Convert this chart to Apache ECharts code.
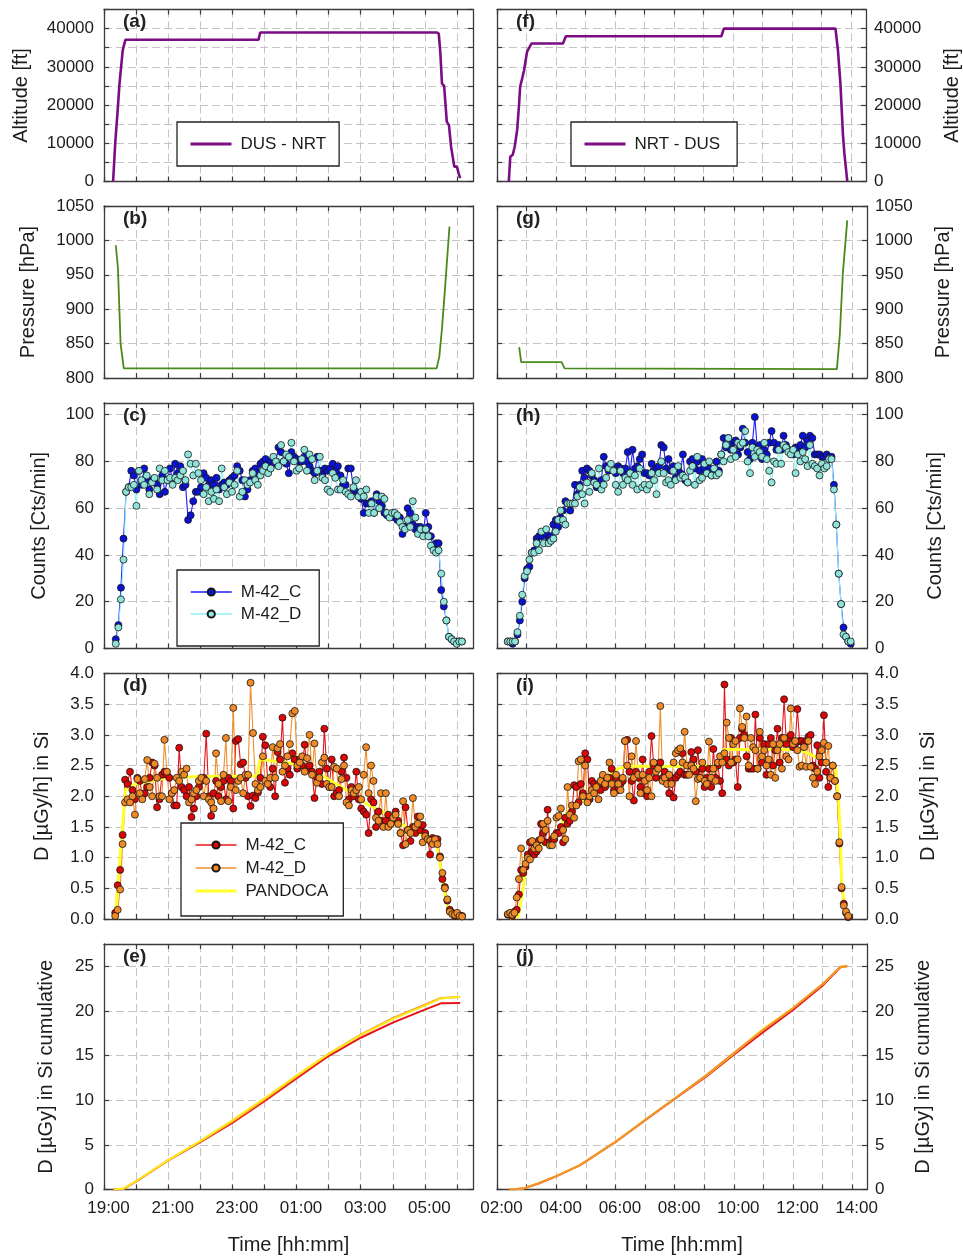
<!DOCTYPE html>
<html>
<head>
<meta charset="utf-8">
<script src="https://cdn.jsdelivr.net/npm/echarts@6.0.0/dist/echarts.min.js"></script>
<style>
  html, body { margin: 0; padding: 0; background: #fff; }
  #chart { width: 963px; height: 1260px; }
</style>
</head>
<body>
<div id="chart"></div>
<script>
// ---- axis ticks ----
const leftTimeTicks = ['19:00', '21:00', '23:00', '01:00', '03:00', '05:00'];
const rightTimeTicks = ['02:00', '04:00', '06:00', '08:00', '10:00', '12:00', '14:00'];
const altitudeTicks = [0, 10000, 20000, 30000, 40000];
const pressureTicks = [800, 850, 900, 950, 1000, 1050];
const countTicks = [0, 20, 40, 60, 80, 100];
const doseTicks = [0, 0.5, 1, 1.5, 2, 2.5, 3, 3.5, 4];
const cumTicks = [0, 5, 10, 15, 20, 25];

// ---- flight profile DUS - NRT (left) ----
const altLeftTime = ['19:17', '19:21', '19:26', '19:29', '19:35', '19:40', '23:49', '23:52', '05:22', '05:26', '05:29',
  '05:32', '05:36', '05:38', '05:41', '05:45', '05:49', '05:52', '05:55', '06:00', '06:03', '06:06'];
const altLeft = [0, 10000, 19500, 25600, 34300, 37100, 37100, 39000, 39000, 38700, 33500,
  25600, 25000, 21300, 15600, 14800, 9100, 6500, 3900, 3900, 2200, 870];
const presLeftTime = ['19:22', '19:26', '19:31', '19:37', '05:22', '05:27', '05:32', '05:37', '05:41', '05:46'];
const presLeft = [993, 961, 850, 814, 814, 831, 872, 923, 966, 1020];

// ---- flight profile NRT - DUS (right) ----
const altRightTime = ['02:24', '02:27', '02:32', '02:36', '02:41', '02:45', '02:47', '02:52', '02:55', '02:58', '03:01', '03:04',
  '03:10', '04:14', '04:20', '09:36', '09:41', '13:28', '13:33', '13:38', '13:43', '13:46', '13:52'];
const altRight = [0, 6500, 7000, 9100, 13500, 20400, 24800, 27400, 29100, 29100, 33900, 34300,
  36100, 36100, 38000, 38000, 40000, 40000, 34300, 25650, 12600, 7400, 0];
const presRightTime = ['02:45', '02:49', '04:11', '04:17', '13:29', '13:35', '13:41', '13:50'];
const presRight = [845, 823, 823, 814, 813, 864, 952, 1029];

// ---- count rates, regular sampling (start time, step in minutes) ----
const countLeftStart = '19:22';
const countLeftStep = 4.83;
const countLeftC = [4, 10, 26, 47, 67, 69, 76, 74, 68, 76, 70, 77, 72, 68, 72, 72, 70, 66, 74, 67,
  72, 77, 72, 79, 75, 78, 69, 70, 55, 57, 63, 67, 67, 69, 75, 73, 70, 72, 70, 73,
  68, 70, 71, 70, 72, 73, 74, 78, 76, 72, 65, 68, 72, 76, 77, 75, 79, 80, 81, 79,
  80, 79, 80, 86, 84, 80, 79, 75, 84, 82, 81, 80, 80, 82, 80, 78, 76, 75, 82, 76,
  74, 77, 76, 77, 79, 76, 78, 74, 70, 70, 77, 77, 68, 67, 66, 64, 58, 62, 62, 63,
  58, 66, 63, 61, 58, 57, 57, 57, 56, 55, 56, 49, 52, 60, 58, 53, 51, 52, 52, 49,
  58, 52, 48, 43, 45, 45, 25, 18, 12, 5, 4, 3, 3, 3, 3];
const countLeftD = [2, 9, 21, 38, 67, 69, 69, 70, 61, 76, 72, 70, 74, 66, 71, 73, 68, 77, 72, 76,
  72, 73, 70, 73, 72, 74, 76, 72, 83, 79, 74, 79, 75, 72, 66, 69, 63, 67, 64, 68,
  63, 77, 69, 66, 71, 67, 70, 76, 65, 67, 72, 70, 71, 75, 72, 70, 74, 76, 78, 75,
  77, 82, 80, 78, 87, 80, 83, 82, 88, 80, 76, 77, 81, 85, 76, 83, 81, 72, 76, 82,
  73, 72, 68, 67, 75, 73, 68, 68, 72, 67, 66, 65, 69, 72, 65, 67, 65, 68, 58, 62,
  58, 65, 60, 65, 64, 58, 56, 58, 58, 57, 54, 52, 51, 55, 52, 63, 56, 49, 51, 48,
  51, 48, 44, 42, 41, 42, 32, 20, 12, 5, 4, 3, 2, 3, 3];

const countRightStart = '02:22';
const countRightStep = 4.86;
const countRightC = [3, 3, 2, 3, 6, 12, 20, 30, 34, 35, 41, 42, 47, 48, 48, 50, 49, 47, 48, 53,
  55, 52, 56, 59, 63, 62, 59, 62, 70, 66, 70, 76, 73, 77, 76, 74, 72, 69, 69, 72,
  82, 78, 76, 78, 77, 75, 78, 77, 75, 77, 84, 75, 85, 77, 78, 81, 83, 75, 75, 74,
  79, 76, 77, 78, 87, 86, 77, 81, 76, 78, 73, 77, 75, 83, 72, 71, 80, 81, 77, 80,
  76, 81, 77, 75, 77, 74, 76, 80, 76, 83, 90, 86, 90, 85, 88, 89, 83, 86, 94, 88,
  84, 81, 88, 99, 86, 87, 81, 85, 83, 88, 93, 88, 85, 87, 85, 91, 87, 85, 84, 83,
  86, 86, 87, 91, 86, 89, 91, 90, 83, 83, 83, 82, 82, 83, 82, 82, 70, 53, 32, 19,
  9, 5, 3, 2];
const countRightD = [3, 3, 3, 3, 7, 14, 23, 31, 33, 38, 41, 41, 45, 42, 50, 45, 51, 45, 46, 47,
  50, 55, 59, 55, 53, 62, 62, 62, 62, 65, 69, 66, 62, 71, 67, 75, 71, 70, 77, 68,
  70, 73, 77, 79, 76, 70, 67, 76, 70, 73, 72, 75, 70, 74, 68, 77, 69, 70, 68, 70,
  75, 72, 66, 75, 80, 75, 71, 72, 70, 76, 72, 78, 73, 74, 73, 71, 76, 78, 70, 82,
  72, 73, 79, 75, 80, 74, 77, 74, 75, 83, 80, 87, 90, 81, 85, 82, 88, 87, 88, 93,
  80, 75, 86, 82, 85, 84, 82, 88, 81, 76, 71, 80, 79, 85, 79, 87, 86, 84, 83, 85,
  75, 83, 80, 84, 81, 78, 87, 79, 78, 77, 74, 79, 77, 78, 81, 81, 68, 53, 32, 19,
  6, 5, 3, 3];

// ---- dose rates, regular sampling ----
const doseLeftStart = '19:21';
const doseLeftStep = 4.6;
const doseLeftC = [0.1, 0.55, 0.8, 1.37, 2.27, 2.2, 2.4, 2.1, 1.95, 2.3, 2.25, 2.0, 2.05, 2.15, 2.3, 2.55, 2.5, 1.82, 1.95, 2.35,
  2.4, 2.35, 2.3, 2.05, 1.85, 1.85, 2.79, 2.15, 2.1, 2.0, 2.15, 1.66, 1.8, 2.0, 2.15, 2.25, 2.3, 3.02, 2.0, 1.68,
  2.05, 2.25, 2.0, 2.15, 2.25, 1.95, 2.3, 2.25, 1.8, 2.9, 2.93, 2.52, 2.55, 2.3, 2.0, 1.84, 2.01, 1.97, 2.06, 2.3,
  2.97, 2.83, 2.25, 2.15, 2.45, 2.0, 2.72, 2.6, 3.28, 2.22, 2.45, 2.35, 2.7, 2.6, 2.45, 2.6, 2.5, 2.84, 2.45, 2.5,
  2.4, 1.97, 2.3, 2.4, 2.2, 3.1, 2.45, 2.15, 2.6, 2.0, 2.05, 2.1, 2.4, 2.63, 2.3, 1.95, 2.15, 2.0, 2.4, 1.95,
  1.8, 1.75, 1.7, 1.4, 1.95, 1.9, 1.5, 1.75, 1.6, 1.55, 1.6, 1.7, 1.55, 1.6, 1.75, 1.6, 1.4, 1.2, 1.82, 1.45,
  1.27, 1.5, 1.4, 1.67, 1.45, 1.53, 1.4, 1.3, 1.05, 1.32, 1.3, 1.3, 1.02, 0.65, 0.52, 0.3, 0.15, 0.1, 0.05, 0.08,
  0.06, 0.05];
const doseLeftD = [0.05, 0.15, 0.48, 1.22, 1.9, 1.95, 1.9, 2.0, 1.7, 2.28, 2.05, 1.95, 2.28, 2.59, 2.15, 2.0, 2.53, 2.3, 2.0, 2.0,
  2.92, 2.4, 1.95, 2.05, 2.1, 2.3, 2.25, 2.4, 2.35, 2.45, 1.9, 1.95, 2.05, 2.1, 2.25, 2.3, 2.0, 2.25, 1.95, 1.9,
  1.8, 2.7, 2.2, 1.92, 2.35, 2.95, 1.92, 2.15, 3.44, 2.1, 2.25, 2.3, 2.05, 2.35, 2.35, 3.85, 3.03, 2.2, 2.1, 2.15,
  2.65, 2.25, 2.2, 2.3, 2.8, 2.3, 2.78, 2.85, 2.4, 2.5, 2.65, 2.85, 3.35, 3.39, 2.5, 2.55, 2.65, 2.4, 2.62, 3.0,
  2.35, 2.86, 2.22, 2.3, 2.55, 2.63, 2.2, 2.15, 2.15, 2.48, 2.45, 2.0, 2.28, 2.5, 1.9, 1.85, 2.1, 2.05, 2.1, 2.15,
  1.95, 2.35, 2.8, 2.05, 2.5, 2.25, 1.65, 1.6, 2.05, 1.5, 2.05, 1.5, 1.55, 1.65, 1.7, 1.55, 1.4, 1.92, 1.22, 1.45,
  1.4, 1.97, 1.5, 1.55, 1.67, 1.25, 1.35, 1.3, 1.28, 1.22, 1.3, 1.22, 1.0, 0.75, 0.5, 0.32, 0.12, 0.08, 0.07, 0.1,
  0.05, 0.04];
const pandLeftTime = ['19:21', '19:40', '19:55', '20:26', '20:58', '22:00', '23:46', '23:52', '00:48', '01:10', '01:41', '02:12',
  '02:44', '03:14', '03:46', '04:17', '04:48', '05:07', '05:22', '05:27', '05:35', '05:44', '05:56', '06:09'];
const pandLeft = [0.01, 2.11, 2.19, 2.25, 2.3, 2.32, 2.33, 2.6, 2.54, 2.49, 2.37, 2.21,
  2.05, 1.86, 1.73, 1.54, 1.40, 1.29, 1.24, 0.96, 0.53, 0.15, 0.04, 0.01];

const doseRightStart = '02:22';
const doseRightStep = 4.48;
const doseRightC = [0.07, 0.08, 0.05, 0.12, 0.15, 0.4, 0.8, 0.75, 0.85, 1.05, 1.25, 1.1, 1.05, 1.1, 1.28, 1.55, 1.4, 1.25, 1.78, 1.25,
  1.3, 1.3, 1.4, 1.4, 1.5, 1.25, 1.65, 1.55, 1.6, 1.75, 2.18, 2.15, 1.9, 2.2, 2.05, 2.7, 2.6, 1.95, 2.25, 2.2,
  2.1, 2.2, 2.1, 2.3, 2.15, 2.25, 2.3, 2.45, 2.1, 2.3, 2.1, 2.2, 2.25, 2.9, 2.92, 2.4, 2.25, 1.93, 2.4, 2.3,
  2.15, 2.6, 2.05, 2.0, 2.4, 2.98, 2.5, 2.3, 2.5, 2.55, 2.3, 2.4, 2.25, 2.05, 2.3, 1.98, 2.3, 2.35, 2.4, 2.7,
  2.35, 2.35, 2.5, 2.72, 2.6, 2.4, 2.75, 2.3, 2.45, 2.15, 2.3, 2.45, 2.15, 2.77, 2.3, 2.5, 2.25, 2.05, 3.82, 2.6,
  2.5, 2.95, 2.55, 2.6, 2.15, 2.95, 3.1, 3.0, 2.65, 2.45, 2.45, 2.45, 3.33, 2.45, 2.95, 2.55, 2.85, 2.35, 2.85, 2.95,
  2.5, 2.75, 3.1, 2.55, 2.95, 3.58, 2.85, 2.95, 3.0, 2.8, 2.85, 3.42, 2.9, 2.9, 2.85, 2.9, 2.97, 3.0, 2.5, 2.45,
  2.83, 2.3, 2.55, 3.32, 2.4, 2.15, 2.3, 2.5, 2.25, 2.0, 1.23, 0.5, 0.25, 0.1, 0.03];
const doseRightD = [0.08, 0.1, 0.07, 0.1, 0.35, 0.65, 1.15, 0.8, 0.9, 1.0, 0.97, 1.27, 1.15, 1.2, 1.15, 1.3, 1.55, 1.45, 1.6, 1.2,
  1.2, 1.35, 1.65, 1.68, 1.8, 1.45, 1.3, 2.15, 1.7, 1.85, 1.65, 1.85, 2.57, 2.6, 2.0, 2.5, 1.9, 2.0, 2.1, 2.05,
  2.15, 1.95, 2.25, 2.35, 2.2, 2.3, 2.55, 2.2, 2.05, 2.35, 2.2, 2.1, 2.3, 2.9, 2.5, 2.0, 2.65, 2.3, 2.9, 2.35,
  2.05, 2.35, 2.25, 2.1, 2.3, 2.0, 2.55, 2.4, 2.45, 3.47, 2.25, 2.3, 2.2, 2.35, 2.2, 2.55, 2.7, 2.75, 2.78, 2.55,
  3.05, 2.5, 2.35, 2.5, 2.45, 1.92, 2.28, 2.3, 2.55, 2.25, 2.2, 2.89, 2.3, 2.45, 2.25, 2.55, 2.65, 2.55, 2.7, 3.2,
  2.95, 2.55, 2.85, 2.9, 2.6, 3.43, 3.13, 2.95, 3.3, 2.5, 2.95, 2.8, 2.75, 2.45, 3.05, 2.65, 2.75, 2.5, 2.6, 2.35,
  2.85, 2.3, 2.75, 2.85, 2.45, 2.95, 2.65, 2.6, 3.43, 2.85, 2.9, 2.75, 2.48, 2.5, 2.8, 2.48, 2.9, 2.48, 2.3, 2.2,
  2.4, 2.65, 2.75, 2.87, 2.55, 2.82, 2.3, 2.5, 2.25, 2.0, 1.25, 0.52, 0.22, 0.12, 0.05];
const pandRightTime = ['02:26', '02:43', '02:50', '02:59', '03:10', '03:37', '04:11', '04:14', '04:21', '04:52', '05:32', '06:06',
  '06:26', '09:35', '09:39', '12:08', '12:28', '12:55', '13:26', '13:32', '13:36', '13:39', '13:46', '13:56'];
const pandRight = [0.01, 0.04, 0.36, 0.83, 1.08, 1.24, 1.45, 1.62, 1.73, 1.92, 2.24, 2.45,
  2.49, 2.49, 2.76, 2.76, 2.71, 2.6, 2.49, 2.0, 1.34, 0.53, 0.15, 0.01];

// ---- cumulative dose ----
const cumLeftTime = ['19:18', '19:36', '20:00', '21:00', '22:00', '23:00', '00:00', '01:00', '02:00', '03:00', '04:00', '05:00', '05:30', '06:06'];
const cumLeftC = [0, 0.05, 0.9, 3.25, 5.3, 7.45, 9.9, 12.45, 14.95, 17.0, 18.7, 20.15, 20.85, 20.9];
const cumLeftD = [0, 0.05, 0.9, 3.3, 5.35, 7.6, 10.05, 12.65, 15.2, 17.35, 19.2, 20.7, 21.45, 21.55];
const cumLeftP = [0, 0.1, 0.95, 3.3, 5.45, 7.75, 10.2, 12.75, 15.2, 17.3, 19.1, 20.6, 21.4, 21.6];
const cumRightTime = ['02:25', '02:53', '03:23', '04:00', '04:48', '06:00', '07:04', '08:00', '09:05', '10:00', '11:00', '12:00', '13:02', '13:36', '13:50'];
const cumRightC = [0, 0.1, 0.65, 1.47, 2.7, 5.3, 7.9, 10.15, 12.7, 15.1, 17.65, 20.1, 22.95, 24.9, 25.0];
const cumRightD = [0, 0.1, 0.67, 1.5, 2.73, 5.35, 7.95, 10.2, 12.85, 15.3, 17.9, 20.3, 23.1, 24.95, 25.05];
const cumRightP = [0, 0.1, 0.68, 1.5, 2.72, 5.33, 7.95, 10.2, 12.8, 15.25, 18.0, 20.35, 23.1, 24.95, 25.0];

// ---- helpers ----
// hours elapsed since the axis start hour (wraps over midnight)
function hrs(t, start) {
  const [h, m] = t.split(':').map(Number);
  return ((h * 60 + m - start * 60 + 1440) % 1440) / 60;
}
function pairs(times, vals, start) {
  return times.map((t, i) => [hrs(t, start), vals[i]]);
}
function sampled(t0, stepMin, vals, start) {
  const s = hrs(t0, start);
  return vals.map((v, i) => [s + i * stepMin / 60, v]);
}

const FONT = 'Liberation Sans, Arial, sans-serif';
const FRAME = '#3a3a3a';
const GRIDLINE = '#c4c4c4';
const TEXT = '#1c1c1c';

const cols = [
  { left: 104, width: 369, start: 19, span: 11.5, ticks: leftTimeTicks },
  { left: 497, width: 370, start: 2, span: 12.5, ticks: rightTimeTicks }
];
const rows = [
  { top: 9.5, height: 172, min: 0, max: 45000, ticks: altitudeTicks, minor: 5000, name: 'Altitude [ft]', gap: [73, 76] },
  { top: 206, height: 172, min: 800, max: 1050, ticks: pressureTicks, name: 'Pressure [hPa]', gap: [66, 66] },
  { top: 403, height: 245.5, min: 0, max: 105, ticks: countTicks, name: 'Counts [Cts/min]', gap: [55, 58] },
  { top: 673.5, height: 245.5, min: 0, max: 4, ticks: doseTicks, digits: 1, name: 'D [µGy/h] in Si', gap: [52, 51] },
  { top: 944, height: 245.5, min: 0, max: 27.5, ticks: cumTicks, name: 'D [µGy] in Si cumulative', gap: [48, 46] }
];
const panelLabels = [['(a)', '(b)', '(c)', '(d)', '(e)'], ['(f)', '(g)', '(h)', '(i)', '(j)']];

const grid = [], xAxis = [], yAxis = [], title = [];
cols.forEach((col, c) => {
  rows.forEach((row, r) => {
    const g = grid.length;
    grid.push({ left: col.left, top: row.top, width: col.width, height: row.height, containLabel: false });
    const bottomRow = r === rows.length - 1;
    const hourTicks = [];
    for (let h = 0; h <= Math.floor(col.span); h++) hourTicks.push(h);
    const line = { show: true, onZero: false, lineStyle: { color: FRAME, width: 1.3 } };
    const xTick = { show: true, inside: true, length: 5, customValues: hourTicks, lineStyle: { color: FRAME, width: 1.2 } };
    xAxis.push({
      gridIndex: g, type: 'value', position: 'bottom', min: 0, max: col.span, interval: 2,
      axisLine: line, axisTick: xTick,
      axisLabel: {
        show: bottomRow, customValues: col.ticks.map(t => hrs(t, col.start)),
        formatter: v => col.ticks.find(t => Math.abs(hrs(t, col.start) - v) < 1e-6) || '',
        fontSize: 17, color: TEXT, fontFamily: FONT, margin: 10, padding: [0, 0, 0, 9]
      },
      splitLine: { show: true, lineStyle: { color: GRIDLINE, width: 1, type: [8, 4] } },
      name: bottomRow ? 'Time [hh:mm]' : '', nameLocation: 'middle', nameGap: 46,
      nameTextStyle: { fontSize: 20, color: TEXT, fontFamily: FONT }
    });
    xAxis.push({
      gridIndex: g, type: 'value', position: 'top', min: 0, max: col.span, interval: 2,
      axisLine: line, axisTick: xTick, axisLabel: { show: false }, splitLine: { show: false }
    });

    const yTickVals = row.minor ? row.ticks.flatMap(v => [v, v + row.minor]) : row.ticks;
    const yTick = { show: true, inside: true, length: 5, customValues: yTickVals, lineStyle: { color: FRAME, width: 1.2 } };
    const yLabel = (show, margin) => ({
      show: show, customValues: row.ticks, margin: margin,
      formatter: v => row.digits ? v.toFixed(row.digits) : String(v),
      fontSize: 17, color: TEXT, fontFamily: FONT
    });
    const yBase = { gridIndex: g, type: 'value', min: row.min, max: row.max, interval: row.ticks[1] - row.ticks[0],
      axisLine: line, axisTick: yTick, nameLocation: 'middle',
      nameTextStyle: { fontSize: 20, color: TEXT, fontFamily: FONT } };
    yAxis.push(Object.assign({}, yBase, {
      position: 'left', axisLabel: yLabel(c === 0, 10),
      splitLine: { show: true, lineStyle: { color: GRIDLINE, width: 1, type: [8, 4] } },
      name: c === 0 ? row.name : '', nameGap: row.gap[0]
    }));
    yAxis.push(Object.assign({}, yBase, {
      position: 'right', axisLabel: yLabel(c === 1, 8), splitLine: { show: false },
      name: c === 1 ? row.name : '', nameGap: row.gap[1]
    }));

    title.push({
      text: panelLabels[c][r], left: col.left + 19, top: row.top + 3, padding: 0,
      textStyle: { fontSize: 19, fontWeight: 'bold', color: '#222', fontFamily: FONT }
    });
  });
});

// grid index: left column 0..4, right column 5..9
function plain(g, name, data, color, width) {
  return { name: name, type: 'line', xAxisIndex: 2 * g, yAxisIndex: 2 * g, data: data,
    symbol: 'none', lineStyle: { color: color, width: width }, itemStyle: { color: color }, silent: true };
}
function marked(g, name, data, lineColor, fill) {
  return { name: name, type: 'line', xAxisIndex: 2 * g, yAxisIndex: 2 * g, data: data,
    symbol: 'circle', symbolSize: 7, showAllSymbol: true,
    lineStyle: { color: lineColor, width: 1.1 },
    itemStyle: { color: fill, borderColor: '#161616', borderWidth: 0.8 }, silent: true };
}

const PURPLE = '#7a0d84';
const GREEN = '#4a8a1c';
const series = [
  plain(0, 'a:DUS - NRT', pairs(altLeftTime, altLeft, 19), PURPLE, 2.6),
  plain(1, 'b:pressure', pairs(presLeftTime, presLeft, 19), GREEN, 1.8),
  marked(2, 'c:M-42_C', sampled(countLeftStart, countLeftStep, countLeftC, 19), '#1c1cff', '#0a12d6'),
  marked(2, 'c:M-42_D', sampled(countLeftStart, countLeftStep, countLeftD, 19), '#8cf2f2', '#8fe4da'),
  marked(3, 'd:M-42_C', sampled(doseLeftStart, doseLeftStep, doseLeftC, 19), '#e8141c', '#dc0606'),
  marked(3, 'd:M-42_D', sampled(doseLeftStart, doseLeftStep, doseLeftD, 19), '#f0902e', '#ef8a26'),
  plain(3, 'd:PANDOCA', pairs(pandLeftTime, pandLeft, 19), '#ffff2a', 3),
  plain(4, 'e:M-42_C', pairs(cumLeftTime, cumLeftC, 19), '#e8141c', 2),
  plain(4, 'e:M-42_D', pairs(cumLeftTime, cumLeftD, 19), '#f0902e', 2),
  plain(4, 'e:PANDOCA', pairs(cumLeftTime, cumLeftP, 19), '#ffe81a', 2),

  plain(5, 'f:NRT - DUS', pairs(altRightTime, altRight, 2), PURPLE, 2.6),
  plain(6, 'g:pressure', pairs(presRightTime, presRight, 2), GREEN, 1.8),
  marked(7, 'h:M-42_C', sampled(countRightStart, countRightStep, countRightC, 2), '#1c1cff', '#0a12d6'),
  marked(7, 'h:M-42_D', sampled(countRightStart, countRightStep, countRightD, 2), '#8cf2f2', '#8fe4da'),
  marked(8, 'i:M-42_C', sampled(doseRightStart, doseRightStep, doseRightC, 2), '#e8141c', '#dc0606'),
  marked(8, 'i:M-42_D', sampled(doseRightStart, doseRightStep, doseRightD, 2), '#f0902e', '#ef8a26'),
  plain(8, 'i:PANDOCA', pairs(pandRightTime, pandRight, 2), '#ffff2a', 3),
  plain(9, 'j:M-42_C', pairs(cumRightTime, cumRightC, 2), '#e8141c', 2),
  plain(9, 'j:PANDOCA', pairs(cumRightTime, cumRightP, 2), '#ffe81a', 2),
  plain(9, 'j:M-42_D', pairs(cumRightTime, cumRightD, 2), '#f0902e', 2)
];

// legend entries: plain lines get no marker and a thicker sample line
const lineOnly = n => ({ name: n, itemStyle: { opacity: 0 }, lineStyle: { width: 3 } });
const withMark = n => ({ name: n, lineStyle: { width: 1.5 } });

function legendBox(names, left, top, padding, gap) {
  return {
    data: names, left: left, top: top, orient: 'vertical', selectedMode: false,
    padding: padding, itemGap: gap, itemWidth: 41, itemHeight: 9,
    backgroundColor: '#fff', borderColor: '#222', borderWidth: 1.3, borderRadius: 0,
    formatter: n => n.split(':')[1],
    textStyle: { fontSize: 17, color: TEXT, fontFamily: FONT, lineHeight: 20, padding: [0, 0, 0, 4] }
  };
}

const chart = echarts.init(document.getElementById('chart'), null, { renderer: 'canvas' });
chart.setOption({
  animation: false,
  backgroundColor: '#fff',
  title: title,
  grid: grid,
  xAxis: xAxis,
  yAxis: yAxis,
  legend: [
    legendBox([lineOnly('a:DUS - NRT')], 177, 122, [12, 13, 12, 12], 2),
    legendBox([lineOnly('f:NRT - DUS')], 571, 122, [12, 17, 12, 12], 2),
    legendBox([withMark('c:M-42_C'), withMark('c:M-42_D')], 177, 570, [12, 18, 22, 13], 2),
    legendBox([withMark('d:M-42_C'), withMark('d:M-42_D'), lineOnly('d:PANDOCA')], 181, 823, [12, 15, 15, 13], 3)
  ],
  series: series
});
</script>
</body>
</html>
